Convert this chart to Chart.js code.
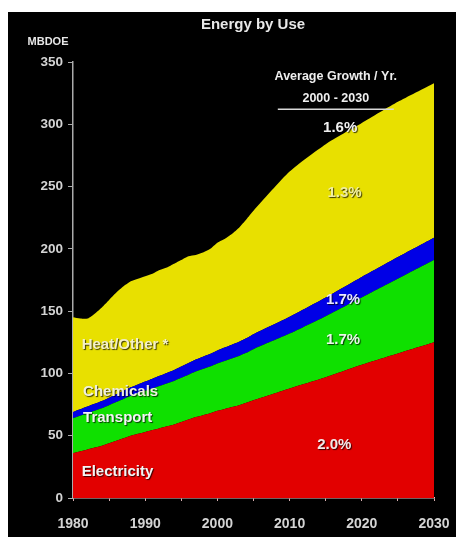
<!DOCTYPE html>
<html>
<head>
<meta charset="utf-8">
<script src="https://cdn.jsdelivr.net/npm/chart.js@4"></script>
<style>
  html, body { margin: 0; padding: 0; background: #fff; }
  #frame { position: absolute; left: 8px; top: 12px; width: 448px; height: 525px; background: #000; }
  canvas { display: block; }
</style>
</head>
<body>
<div id="frame"><canvas id="energyChart" width="448" height="525"></canvas></div>
<script>
// years: history yearly, outlook in 5-year steps
const years = [1980, 1981, 1982, 1983, 1984, 1985, 1986, 1987, 1988, 1989,
  1990, 1991, 1992, 1993, 1994, 1995, 1996, 1997, 1998, 1999,
  2000, 2001, 2002, 2003, 2004, 2005, 2010, 2015, 2020, 2025, 2030];

// MBDOE by use
const electricity = [36, 37.5, 39, 40.5, 42, 44, 46, 48, 50, 51.5,
  53, 54.5, 56, 57.5, 59, 61, 63, 65, 66.5, 68,
  70, 71.5, 73, 74.5, 76.5, 78.5, 88, 97, 107, 116, 125];
const transport = [28, 28.5, 29, 29.5, 30, 30.5, 31, 31.5, 32, 32.5,
  33, 33.5, 34, 34.5, 35, 35.5, 36, 36.5, 37, 37.5,
  38, 38.5, 39, 39.5, 40, 41, 44, 49, 54, 60, 66];
const chemicals = [5, 5.2, 5.4, 5.6, 5.8, 6, 6.3, 6.6, 6.9, 7.2,
  7.5, 7.8, 8.1, 8.4, 8.7, 9, 9.3, 9.6, 9.9, 10.2,
  10.5, 10.8, 11.1, 11.4, 11.7, 12, 13.5, 15, 16.5, 17.5, 18];
const heatOther = [76, 72.8, 70.6, 72.4, 75.2, 78.5, 81.7, 83.9, 85.1, 84.8,
  84.5, 84.2, 84.9, 84.6, 85.3, 85.5, 85.7, 83.9, 83.6, 84.3,
  86.5, 87.2, 88.9, 91.6, 95.3, 99, 116.5, 123, 123.5, 124.5, 124];

const seriesNames = ['Electricity', 'Transport', 'Chemicals', 'Heat/Other *'];
const seriesColors = ['#e20000', '#0fe000', '#0000e6', '#e8e000'];
const growthRates = ['2.0%', '1.7%', '1.7%', '1.3%'];
const totalGrowth = '1.6%';

const yTicks = [0, 50, 100, 150, 200, 250, 300, 350];
const xTicks = [1980, 1990, 2000, 2010, 2020, 2030];

function toPoints(values) {
  return values.map((v, i) => ({ x: years[i], y: v }));
}

const seriesValues = [electricity, transport, chemicals, heatOther];

const datasets = seriesValues.map((vals, i) => ({
  label: seriesNames[i],
  data: toPoints(vals),
  backgroundColor: seriesColors[i],
  borderColor: seriesColors[i],
  borderWidth: 0,
  pointRadius: 0,
  tension: 0.2,
  fill: i === 0 ? 'origin' : '-1'
}));

const FONT = '"Liberation Sans", Arial, sans-serif';

// text drawn over the areas, positioned in data units
const areaLabels = [
  { text: 'Heat/Other *', x: 1981.2, y: 123, align: 'left', color: '#f4f0c8' },
  { text: 'Chemicals', x: 1981.4, y: 85, align: 'left', color: '#f0f0e0' },
  { text: 'Transport', x: 1981.4, y: 64, align: 'left', color: '#f4f4f4' },
  { text: 'Electricity', x: 1981.2, y: 21, align: 'left', color: '#f4f4f4' },
  { text: growthRates[0], x: 2016.2, y: 43, align: 'center', color: '#f4e8e8' },
  { text: growthRates[1], x: 2017.4, y: 127, align: 'center', color: '#e8f8e8' },
  { text: growthRates[2], x: 2017.4, y: 159, align: 'center', color: '#e8e8ff' },
  { text: growthRates[3], x: 2017.6, y: 245, align: 'center', color: '#f0eea0' },
  { text: totalGrowth, x: 2017.0, y: 297, align: 'center', color: '#f0f0f0' }
];

const overlay = {
  id: 'overlay',
  afterDatasetsDraw(chart) {
    const { ctx, scales } = chart;
    const sx = scales.x, sy = scales.y;
    ctx.save();
    ctx.textBaseline = 'middle';

    // title and unit
    ctx.fillStyle = '#e8e8e8';
    ctx.textAlign = 'center';
    ctx.font = 'bold 15px ' + FONT;
    ctx.fillText('Energy by Use', 245, 13);
    ctx.font = 'bold 11px ' + FONT;
    ctx.fillText('MBDOE', 40, 30);

    // growth header
    ctx.font = 'bold 12.5px ' + FONT;
    ctx.fillStyle = '#eeeeee';
    const hx = sx.getPixelForValue(2016.4);
    ctx.fillText('Average Growth / Yr.', hx, sy.getPixelForValue(338));
    ctx.fillText('2000 - 2030', hx, sy.getPixelForValue(321));
    ctx.strokeStyle = '#d8d8d8';
    ctx.lineWidth = 1.5;
    const uy = sy.getPixelForValue(312);
    ctx.beginPath();
    ctx.moveTo(hx - 58, uy);
    ctx.lineTo(hx + 58, uy);
    ctx.stroke();

    ctx.font = 'bold 15px ' + FONT;
    ctx.shadowColor = 'rgba(0,0,0,0.75)';
    ctx.shadowOffsetX = 1;
    ctx.shadowOffsetY = 1;
    ctx.shadowBlur = 1;
    areaLabels.forEach(l => {
      ctx.textAlign = l.align;
      ctx.fillStyle = l.color;
      ctx.fillText(l.text, sx.getPixelForValue(l.x), sy.getPixelForValue(l.y));
    });
    ctx.restore();
  }
};

new Chart(document.getElementById('energyChart'), {
  type: 'line',
  data: { datasets: datasets },
  options: {
    responsive: false,
    animation: false,
    events: [],
    layout: { padding: { top: 50, right: 22, left: 0, bottom: 0 } },
    plugins: { legend: { display: false }, tooltip: { enabled: false } },
    scales: {
      x: {
        type: 'linear',
        min: 1980,
        max: 2030,
        afterBuildTicks: scale => {
          const t = [];
          for (let v = 1980; v <= 2030; v += 5) t.push({ value: v });
          scale.ticks = t;
        },
        afterFit: scale => {
          scale.height = 39;
          scale.paddingLeft = 0;
          scale.paddingRight = 0;
        },
        ticks: {
          color: '#d4d4d4',
          font: { family: FONT, size: 14, weight: 'bold' },
          maxRotation: 0,
          autoSkip: false,
          padding: 15,
          callback: v => xTicks.includes(v) ? String(v) : ''
        },
        grid: { display: true, drawOnChartArea: false, drawTicks: true, tickLength: 3, color: '#d8b0b0' },
        border: { display: true, color: '#e0c0c0', width: 1.5 }
      },
      y: {
        stacked: true,
        min: 0,
        max: 350,
        afterBuildTicks: scale => { scale.ticks = yTicks.map(v => ({ value: v })); },
        afterFit: scale => { scale.width = 65; },
        ticks: {
          color: '#d4d4d4',
          font: { family: FONT, size: 13.5, weight: 'bold' },
          padding: 5
        },
        grid: { display: true, drawOnChartArea: false, drawTicks: true, tickLength: 5, color: '#aaaaaa' },
        border: { display: true, color: '#aaaaaa', width: 1.5 }
      }
    }
  },
  plugins: [overlay]
});
</script>
</body>
</html>
